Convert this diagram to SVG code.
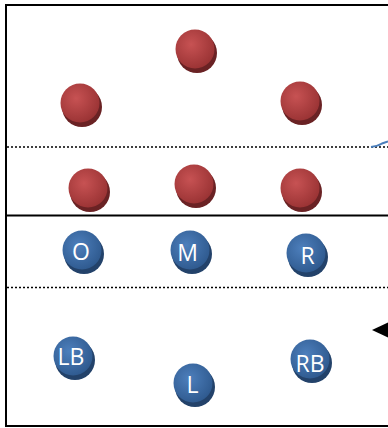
<svg xmlns="http://www.w3.org/2000/svg" width="388" height="428" viewBox="0 0 388 428">
<style>
.frame{fill:none;stroke:#000;stroke-width:2}
.dot{stroke:#000;stroke-width:1.5;stroke-dasharray:2 2}
.red .sh{fill:#6a2224}
.red .bd{fill:url(#gr)}
.blue .sh{fill:#23426a}
.blue .bd{fill:url(#gb)}
.lbl{font-family:"Open Sans","Liberation Sans",sans-serif;font-size:23px;fill:#fff;text-anchor:middle}
</style>
<defs>
<radialGradient id="gr" cx="0.4" cy="0.38" r="0.65">
<stop offset="0" stop-color="#c75253"/>
<stop offset="1" stop-color="#9a3334"/>
</radialGradient>
<radialGradient id="gb" cx="0.4" cy="0.38" r="0.65">
<stop offset="0" stop-color="#4d7fbc"/>
<stop offset="1" stop-color="#2f5a8f"/>
</radialGradient>
</defs>
<rect width="388" height="428" fill="#fff"/>
<rect class="frame" x="6" y="5" width="400" height="421"/>
<line class="dot" x1="7" y1="147" x2="388" y2="147"/>
<line x1="7" y1="215.5" x2="388" y2="215.5" stroke="#000" stroke-width="2"/>
<line class="dot" x1="7" y1="287.5" x2="388" y2="287.5"/>
<g id="connectors">
<path d="M371 147 Q378 146 382 143.5 L388 141.5" fill="none" stroke="#4a7ebb" stroke-width="2"/>
<polygon points="372,330 388,322.5 388,337.5" fill="#000"/>
</g>
<g id="d1" class="red"><circle class="sh" cx="197" cy="53" r="20"/><circle class="bd" cx="195" cy="49" r="19.5"/></g>
<g id="d2" class="red"><circle class="sh" cx="82" cy="107" r="20"/><circle class="bd" cx="80" cy="103" r="19.5"/></g>
<g id="d3" class="red"><circle class="sh" cx="302" cy="105" r="20"/><circle class="bd" cx="300" cy="101" r="19.5"/></g>
<g id="d4" class="red"><circle class="sh" cx="90" cy="192" r="20"/><circle class="bd" cx="88" cy="188" r="19.5"/></g>
<g id="d5" class="red"><circle class="sh" cx="196" cy="188" r="20"/><circle class="bd" cx="194" cy="184" r="19.5"/></g>
<g id="d6" class="red"><circle class="sh" cx="302" cy="192" r="20"/><circle class="bd" cx="300" cy="188" r="19.5"/></g>
<g id="O" class="blue"><circle class="sh" cx="84" cy="254" r="20"/><circle class="bd" cx="82" cy="250" r="19.5"/><text class="lbl" x="81" y="260">O</text></g>
<g id="M" class="blue"><circle class="sh" cx="192" cy="254" r="20"/><circle class="bd" cx="190" cy="250" r="19.5"/><text class="lbl" x="187.5" y="261">M</text></g>
<g id="R" class="blue"><circle class="sh" cx="308" cy="257" r="20"/><circle class="bd" cx="306" cy="253" r="19.5"/><text class="lbl" x="307.5" y="264">R</text></g>
<g id="LB" class="blue"><circle class="sh" cx="75" cy="360" r="20"/><circle class="bd" cx="73" cy="356" r="19.5"/><text class="lbl" x="71" y="365">LB</text></g>
<g id="L" class="blue"><circle class="sh" cx="195" cy="387" r="20"/><circle class="bd" cx="193" cy="383" r="19.5"/><text class="lbl" x="192.5" y="393">L</text></g>
<g id="RB" class="blue"><circle class="sh" cx="312" cy="363" r="20"/><circle class="bd" cx="310" cy="359" r="19.5"/><text class="lbl" x="310" y="372">RB</text></g>
</svg>
